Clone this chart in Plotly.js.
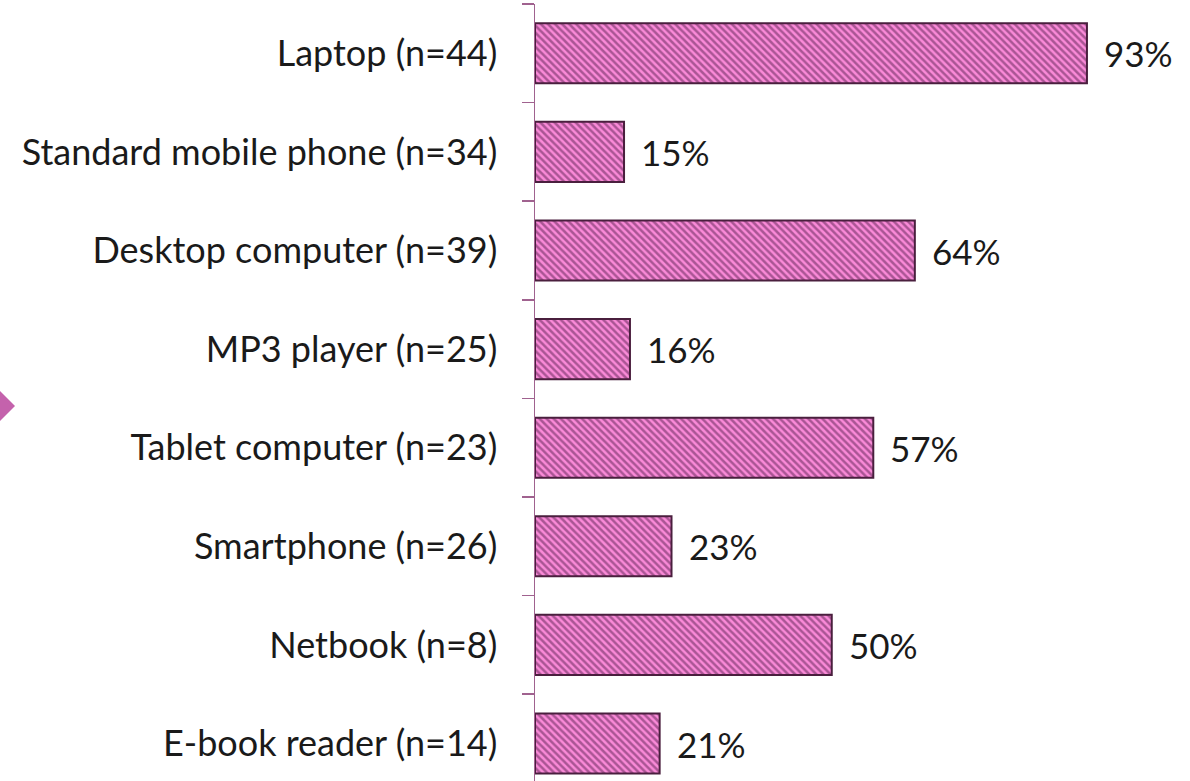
<!DOCTYPE html>
<html>
<head>
<meta charset="utf-8">
<script src="https://cdn.plot.ly/plotly-3.0.1.min.js"></script>
<style>html,body{margin:0;padding:0;background:#fff;}#chart{width:1190px;height:781px;}</style>
</head>
<body>
<div id="chart"></div>
<script>
var categories = ["Laptop (n=44)", "Standard mobile phone (n=34)", "Desktop computer (n=39)", "MP3 player (n=25)", "Tablet computer (n=23)", "Smartphone (n=26)", "Netbook (n=8)", "E-book reader (n=14)"];
var values = [93, 15, 64, 16, 57, 23, 50, 21];
var valueLabels = ["93%", "15%", "64%", "16%", "57%", "23%", "50%", "21%"];

var W = 1190, H = 781;
var mL = 535, mR = 0, mT = 4, mB = 0;
function px(x){ return (x - mL) / (W - mL - mR); }
function py(y){ return (H - mB - y) / (H - mT - mB); }

var FONT = "Lato, 'Open Sans', sans-serif";

var trace = {
  type: "bar",
  orientation: "h",
  y: categories,
  x: values,
  width: 0.61,
  marker: {
    color: "#f582d2",
    line: {color: "#4a1f3e", width: 2},
    pattern: {shape: "\\", bgcolor: "#fa8ad8", fgcolor: "#5a2050", size: 5, solidity: 0.5, fillmode: "overlay"}
  },
  hoverinfo: "skip"
};

var annotations = categories.map(function(c, i){
  return {x: values[i], y: c, xref: "x", yref: "y", text: valueLabels[i], showarrow: false,
          xanchor: "left", yanchor: "middle", xshift: 15, font: {family: FONT, size: 35, color: "#1a1a1a"}};
});

var layout = {
  width: W, height: H,
  margin: {l: mL, r: mR, t: mT, b: mB, pad: 0},
  paper_bgcolor: "#fff", plot_bgcolor: "#fff",
  showlegend: false,
  bargap: 0.39,
  xaxis: {range: [0, (W - mL - mR) / 5.935], visible: false, showgrid: false, zeroline: false, fixedrange: true},
  yaxis: {
    type: "category",
    autorange: false,
    range: [-0.5 + (H - mT - mB) / 98.6, -0.5],
    showline: true, linecolor: "#a0628f", linewidth: 1.5,
    ticks: "outside", tickson: "boundaries", ticklen: 12, tickcolor: "#a0628f", tickwidth: 1.5,
    ticklabelstandoff: 29,
    tickfont: {family: FONT, size: 36, color: "#1a1a1a"},
    showgrid: false, zeroline: false, fixedrange: true
  },
  annotations: annotations,
  shapes: [{
    type: "path", xref: "paper", yref: "paper",
    path: "M " + px(15) + "," + py(406) + " L " + px(-30) + "," + py(361) + " L " + px(-75) + "," + py(406) + " L " + px(-30) + "," + py(451) + " Z",
    fillcolor: "#c462ac", line: {width: 0}, layer: "above"
  }]
};

Plotly.newPlot("chart", [trace], layout, {displayModeBar: false, staticPlot: true});
</script>
</body>
</html>
